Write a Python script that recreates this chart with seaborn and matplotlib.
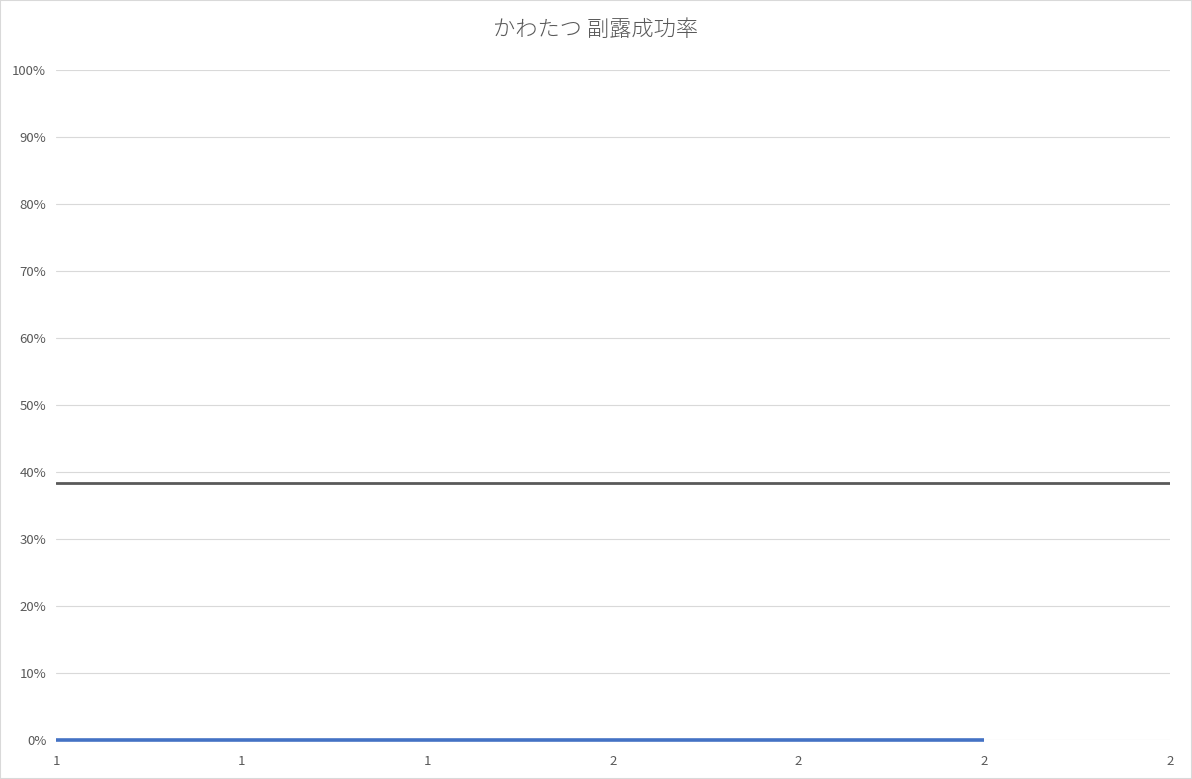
import matplotlib
matplotlib.use('Agg')
import matplotlib.pyplot as plt
import seaborn as sns
import pandas as pd
from matplotlib.ticker import FuncFormatter, MultipleLocator
from matplotlib.patches import Rectangle

# データ
games = [1, 2]
success_rate = [0.0, 0.0]
avg_games = [1, 2.2]
avg_rate = [0.383, 0.383]
title = 'かわたつ 副露成功率'

sns.set_theme(style='white')
plt.rcParams['font.family'] = ['Noto Sans CJK JP', 'DejaVu Sans']

df = pd.DataFrame({'game': games, 'rate': success_rate})
df_avg = pd.DataFrame({'game': avg_games, 'rate': avg_rate})

fig = plt.figure(figsize=(11.92, 7.79), dpi=100)
ax = fig.add_axes([56 / 1192, 1 - 740 / 779, (1170 - 56) / 1192, (740 - 70) / 779])

sns.lineplot(data=df_avg, x='game', y='rate', color='#595959', linewidth=2, ax=ax)
sns.lineplot(data=df, x='game', y='rate', color='#4472C4', linewidth=2.6, ax=ax,
             solid_capstyle='butt', clip_on=False)

ax.set_xlim(1, 2.2)
ax.set_ylim(0, 1)
ax.xaxis.set_major_locator(MultipleLocator(0.2))
ax.yaxis.set_major_locator(MultipleLocator(0.1))
ax.xaxis.set_major_formatter(FuncFormatter(lambda v, p: f'{v:.0f}'))
ax.yaxis.set_major_formatter(FuncFormatter(lambda v, p: f'{v * 100:.0f}%'))
ax.grid(axis='y', color='#d9d9d9', linewidth=0.8)
ax.set_axisbelow(True)
for s in ax.spines.values():
    s.set_visible(False)
ax.tick_params(axis='both', length=0, labelsize=9.5, colors='#595959')
ax.tick_params(axis='x', pad=11)
ax.tick_params(axis='y', pad=7)
ax.set_xlabel('')
ax.set_ylabel('')

fig.text(0.5, 1 - 30 / 779, title, ha='center', va='center', fontsize=16,
         color='#595959', fontweight='light')
fig.patches.append(Rectangle((0, 0), 1, 1, transform=fig.transFigure, fill=False,
                             edgecolor='#d9d9d9', linewidth=1.5))

fig.savefig('out.png', dpi=100)
